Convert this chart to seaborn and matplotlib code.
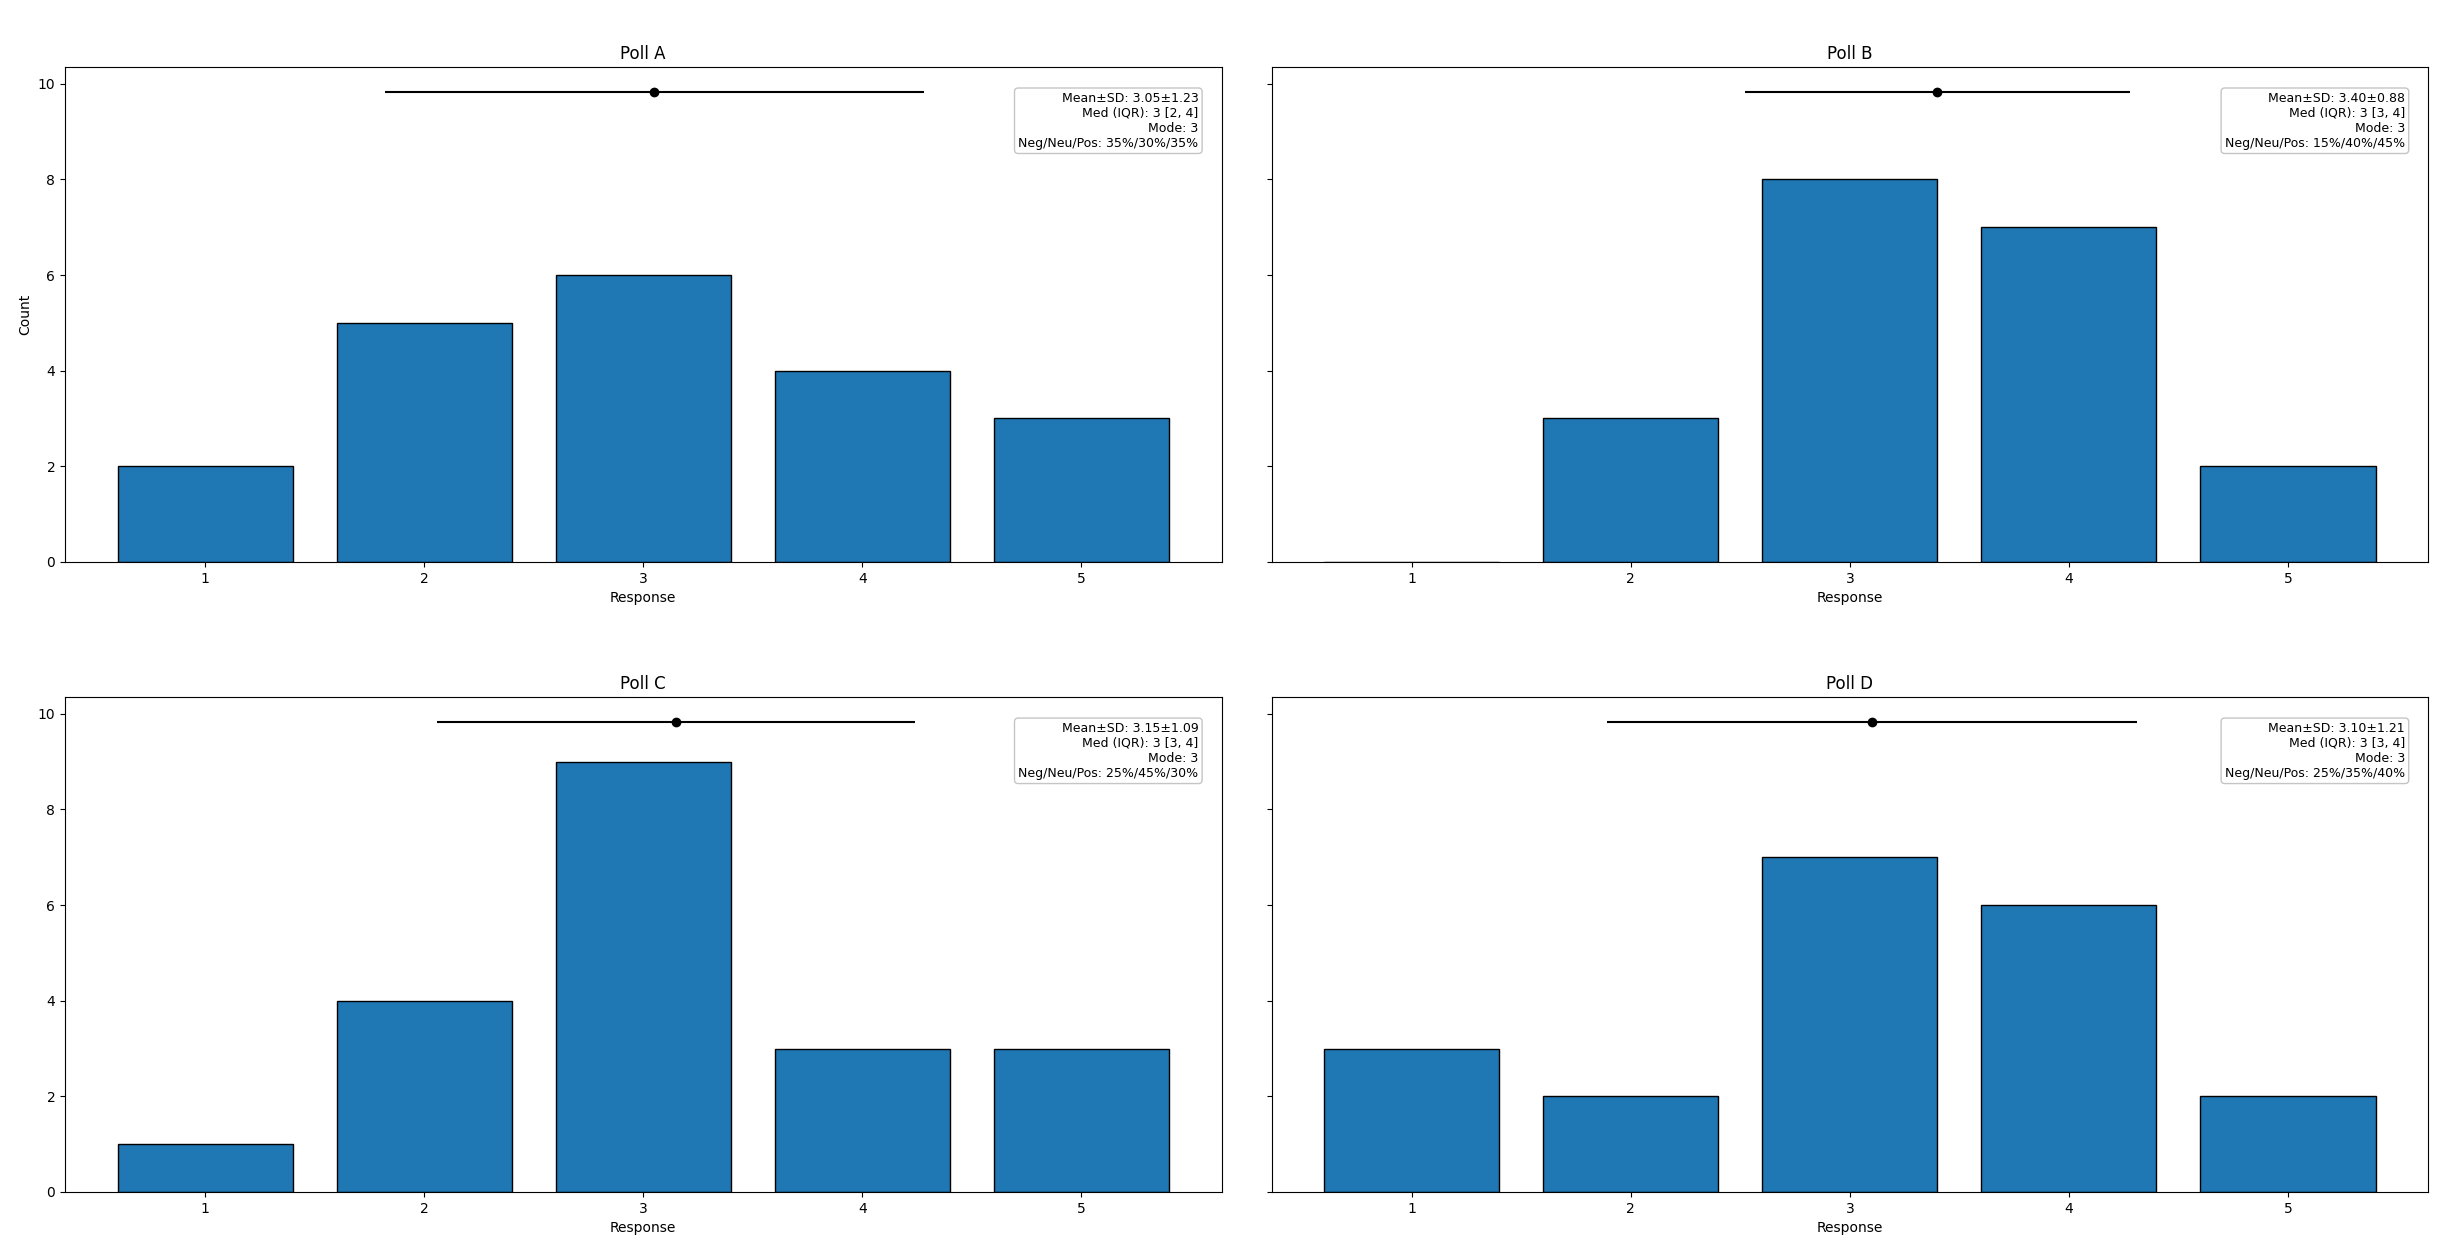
import matplotlib
matplotlib.use("Agg")
import matplotlib.pyplot as plt
import seaborn as sns
import pandas as pd

responses = [1, 2, 3, 4, 5]
poll_names = ["Poll A", "Poll B", "Poll C", "Poll D"]
counts_a = [2, 5, 6, 4, 3]
counts_b = [0, 3, 8, 7, 2]
counts_c = [1, 4, 9, 3, 3]
counts_d = [3, 2, 7, 6, 2]
means = [3.05, 3.40, 3.15, 3.10]
sds = [1.23, 0.88, 1.09, 1.21]
medians = [3, 3, 3, 3]
iqr_low = [2, 3, 3, 3]
iqr_high = [4, 4, 4, 4]
modes = [3, 3, 3, 3]
neg_pct = [35, 15, 25, 25]
neu_pct = [30, 40, 45, 35]
pos_pct = [35, 45, 30, 40]

all_counts = [counts_a, counts_b, counts_c, counts_d]

fig, axes = plt.subplots(2, 2, figsize=(24.43, 12.5), dpi=100, sharey=True)
fig.subplots_adjust(left=0.0266, right=0.9939, top=0.9464, bottom=0.0464,
                    wspace=0.0433, hspace=0.273)

ymax = max(max(c) for c in all_counts) * 1.15

for i, ax in enumerate(axes.flat):
    df = pd.DataFrame({"Response": responses, "Count": all_counts[i]})
    sns.barplot(data=df, x="Response", y="Count", native_scale=True,
                color="#1f77b4", saturation=1, edgecolor="black",
                linewidth=1, width=0.8, ax=ax)
    ax.set_ylim(0, ymax)
    ax.set_xticks(responses)
    ax.set_xlabel("Response")
    ax.set_ylabel("Count" if i == 0 else "")
    ax.set_title(poll_names[i], fontsize=12)
    yerr_pos = ymax * 0.95
    ax.errorbar(means[i], yerr_pos, xerr=sds[i], fmt="o", color="black",
                markersize=6, linewidth=1.5, capsize=0)
    txt = (f"Mean±SD: {means[i]:.2f}±{sds[i]:.2f}\n"
           f"Med (IQR): {medians[i]} [{iqr_low[i]}, {iqr_high[i]}]\n"
           f"Mode: {modes[i]}\n"
           f"Neg/Neu/Pos: {neg_pct[i]}%/{neu_pct[i]}%/{pos_pct[i]}%")
    ax.text(0.98, 0.95, txt, transform=ax.transAxes, ha="right", va="top",
            fontsize=9,
            bbox=dict(boxstyle="round,pad=0.3", facecolor="white",
                      edgecolor="0.75", alpha=0.9))

fig.savefig("out.png", dpi=100)
